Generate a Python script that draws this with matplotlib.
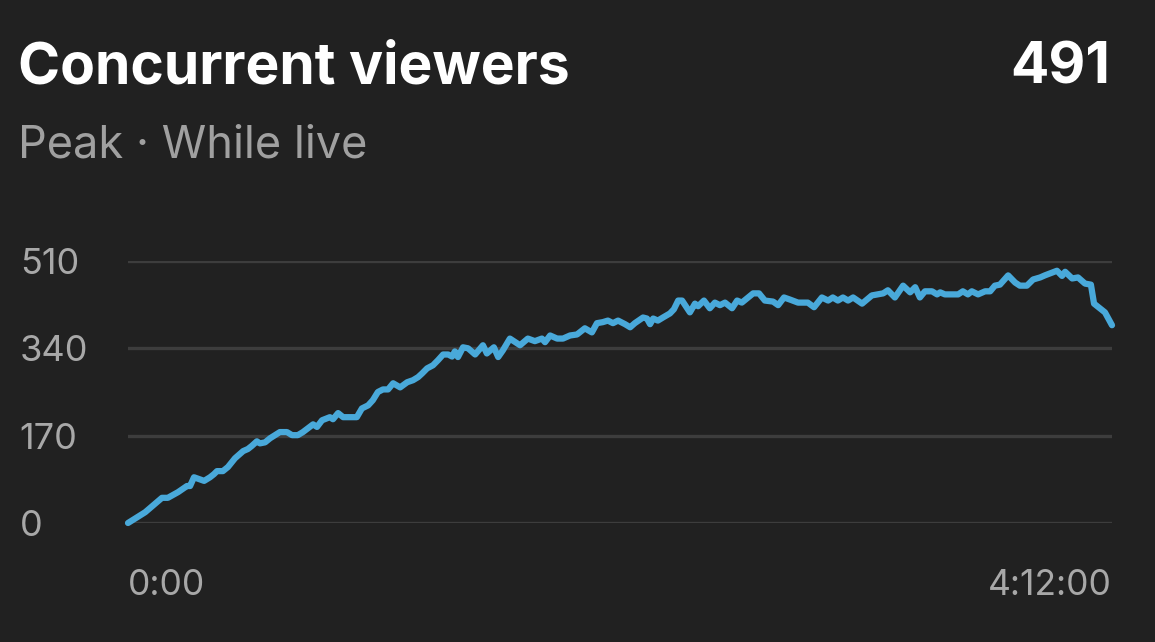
import matplotlib
matplotlib.use("Agg")
import matplotlib.pyplot as plt

# time since start (minutes) and concurrent viewers
minutes = [0, 4.4, 8.7, 10.2, 12.8, 15.1, 15.9, 16.9, 18.4, 19.5, 21.0, 22.0, 22.8, 24.3,
           25.6, 27.4, 29.5, 30.7, 31.7, 33.0, 33.8, 35.1, 36.4, 38.9, 40.7, 42.0, 43.5,
           44.8, 47.4, 48.4, 49.7, 51.7, 52.5, 53.8, 55.1, 58.6, 59.9, 61.5, 62.7, 64.0,
           65.3, 66.6, 67.9, 69.7, 71.5, 73.0, 74.3, 75.3, 76.6, 78.1, 79.4, 80.7, 82.0,
           83.0, 83.7, 84.5, 85.8, 87.1, 88.9, 90.9, 91.9, 93.7, 94.8, 96.0, 97.8, 99.6,
           100.4, 102.4, 104.2, 106.0, 106.8, 108.1, 109.9, 111.4, 113.2, 115.0, 117.0,
           118.8, 120.1, 121.6, 122.9, 124.2, 125.5, 127.3, 128.6, 129.8, 131.9, 132.9,
           133.7, 134.5, 135.7, 137.0, 138.8, 139.8, 140.9, 141.9, 143.9, 145.2, 146.0,
           147.5, 149.0, 150.3, 151.6, 152.9, 154.7, 156.0, 157.2, 160.1, 161.6, 163.1,
           165.2, 166.5, 168.0, 169.5, 171.6, 174.1, 175.7, 177.7, 179.3, 180.5, 181.8,
           183.1, 184.4, 185.7, 188.0, 190.5, 193.4, 194.6, 196.4, 198.5, 200.3, 201.6,
           202.8, 204.1, 205.9, 207.2, 208.0, 209.2, 212.6, 213.8, 215.1, 216.1, 217.7,
           219.5, 220.8, 222.0, 223.3, 225.4, 227.2, 228.4, 230.2, 231.8, 233.6, 234.8,
           237.9, 239.2, 240.0, 241.8, 243.3, 245.1, 246.6, 247.4, 250.2, 252.0]
viewers = [0, 21, 49, 49, 60, 72, 72, 89, 85, 82, 89, 95, 101, 101,
           109, 126, 140, 144, 150, 159, 155, 157, 165, 177, 177, 171, 171,
           177, 192, 187, 200, 206, 202, 214, 206, 206, 223, 229, 239, 255,
           260, 260, 272, 264, 274, 278, 284, 291, 301, 307, 317, 328, 328,
           324, 334, 323, 342, 340, 328, 346, 330, 342, 323, 336, 359, 350,
           346, 359, 354, 359, 352, 365, 359, 359, 365, 367, 379,
           371, 389, 391, 394, 389, 394, 387, 381, 389, 400, 398,
           387, 398, 394, 400, 408, 416, 433, 433, 410, 427, 422,
           433, 418, 429, 424, 429, 418, 433, 429, 447, 447, 433,
           431, 424, 439, 435, 429, 429, 420, 439, 433, 439, 433,
           439, 433, 439, 427, 443, 447, 453, 439, 462, 449, 459,
           439, 451, 451, 445, 449, 445, 445, 451, 445, 451, 445,
           451, 451, 462, 464, 482, 468, 462, 462, 474, 478, 482,
           491, 481, 489, 476, 478, 466, 464, 427, 410, 385]

y_ticks = [0, 170, 340, 510]
x_ticks = [0, 252]
x_labels = ["0:00", "4:12:00"]

bg = "#212121"
plt.rcParams["font.family"] = ["Inter", "DejaVu Sans"]

fig = plt.figure(figsize=(11.55, 6.42), dpi=100, facecolor=bg)
ax = fig.add_axes([128 / 1155, (642 - 523) / 642, 984 / 1155, 262 / 642])
ax.set_facecolor(bg)

ax.plot(minutes, viewers, color="#49a9da", lw=4.5, solid_joinstyle="round",
        solid_capstyle="round", clip_on=False, zorder=3)

ax.set_xlim(0, 252)
ax.set_ylim(0, 510)
ax.set_yticks(y_ticks)
ax.set_yticklabels([str(v) for v in y_ticks])
for t in ax.get_yticklabels():
    t.set_horizontalalignment("left")
ax.tick_params(axis="y", length=0, pad=78, labelsize=26, labelcolor="#a8a8a8")
ax.set_xticks(x_ticks)
ax.set_xticklabels(x_labels)
xl = ax.get_xticklabels()
xl[0].set_horizontalalignment("left")
xl[1].set_horizontalalignment("right")
ax.tick_params(axis="x", length=0, pad=33, labelsize=25.5, labelcolor="#a8a8a8")

ax.grid(axis="y", color="#3d3d3d", lw=2.4, zorder=1)
for s in ax.spines.values():
    s.set_visible(False)

fig.text(18 / 1155, 1 - 84 / 642, "Concurrent viewers", color="white",
         fontsize=41, fontweight="bold", ha="left", va="baseline")
fig.text(1110 / 1155, 1 - 84 / 642, "491", color="white",
         fontsize=41, fontweight="bold", ha="right", va="baseline")
fig.text(18 / 1155, 1 - 157 / 642, "Peak · While live", color="#a0a0a0",
         fontsize=32.5, ha="left", va="baseline")

fig.savefig("out.png", dpi=100, facecolor=bg)
